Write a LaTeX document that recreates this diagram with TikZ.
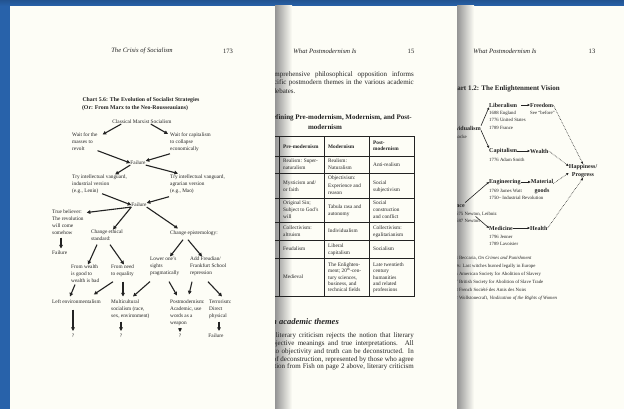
\documentclass[tikz,border=0pt]{standalone}
\usepackage{fontspec}
\setmainfont{Liberation Serif}
\usetikzlibrary{arrows.meta}
\definecolor{desk}{RGB}{40,98,170}
\definecolor{paper}{RGB}{253,253,246}
\definecolor{ink}{RGB}{35,35,35}
\newcommand\justline[2]{\makebox[#1][s]{#2}}
\tikzset{
  chart/.style={font=\fontsize{5.3}{7}\selectfont, text=ink, inner sep=0pt, align=left, anchor=north west},
  cell/.style={font=\fontsize{5.3}{6.5}\selectfont, text=ink, inner sep=0pt, align=left, anchor=north west},
  hdr/.style={font=\fontsize{6.6}{8}\selectfont\itshape, text=ink, inner sep=0pt},
  body/.style={font=\fontsize{7}{8}\selectfont, text=ink, inner sep=0pt, anchor=east},
  bold6/.style={font=\fontsize{6}{8}\selectfont\bfseries, text=ink, inner sep=0pt},
  date/.style={font=\fontsize{4.8}{7.5}\selectfont, text=ink, inner sep=0pt, align=left},
  arr/.style={-{Triangle[length=3.6pt,width=3.6pt]}, line width=1.1pt, ink},
  thinarr/.style={-{Triangle[length=2.4pt,width=2.2pt]}, line width=0.6pt, ink},
  dotarr/.style={-{Triangle[length=2.4pt,width=2.2pt]}, line width=0.6pt, densely dotted, ink},
  rule/.style={line width=0.6pt, ink}
}
\begin{document}
\begin{tikzpicture}[x=1pt,y=-1pt]
\useasboundingbox (0,0) rectangle (624,409);
% desk behind the pages
\fill[desk] (0,0) rectangle (624,409);
\fill[top color=desk!85!black, bottom color=desk] (0,0) rectangle (624,6);

% page 13 (back)
\fill[paper] (430,6) rectangle (624,409);
\fill[left color=black!42, right color=paper] (457,6) rectangle (474,409);
\node[hdr] (hdr13) at (505,51) {What Postmodernism Is};
\node[hdr, font=\fontsize{6.6}{8}\selectfont] (num13) at (592,51) {13};
\node[font=\fontsize{7}{8}\selectfont\bfseries, text=ink, inner sep=0pt, anchor=east] (chart12) at (560,89) {Chart 1.2: The Enlightenment Vision};
\node[bold6, anchor=west] (lib) at (489,105) {Liberalism};
\node[bold6, anchor=west] (free) at (530,105) {Freedom};
\node[date, anchor=north west] (libd) at (489,110.8) {1688 England\\1776 United States\\1789 France};
\node[date, anchor=west] (see) at (530,113) {See ``before''};
\node[bold6, anchor=east] (indiv) at (481,128) {Individualism};
\node[date, anchor=east] (locke) at (467,137) {1690 Locke};
\node[bold6, anchor=west] (cap) at (489,151) {Capitalism};
\node[bold6, anchor=west] (wlth) at (530,151) {Wealth};
\node[date, anchor=west] (smith) at (489,160) {1776 Adam Smith};
\node[bold6, align=center] (happy) at (583,171) {Happiness/\\Progress};
\node[bold6, anchor=west] (eng) at (489,182) {Engineering};
\node[bold6, align=center, font=\fontsize{6}{9}\selectfont\bfseries] (goods) at (542,186.5) {Material\\goods};
\node[date, anchor=north west] (watt) at (489,188.8) {1769 James Watt\\1750-- Industrial Revolution};
\node[bold6, anchor=east] (sci) at (465,205) {Science};
\node[date, anchor=north east] (newt) at (497,211.8) {1675 Newton, Leibniz\\1687 Newton};
\node[bold6, anchor=west] (med) at (489,228) {Medicine};
\node[bold6, anchor=west] (hlth) at (530,228) {Health};
\node[date, anchor=north west] (jen) at (489,234.8) {1796 Jenner\\1789 Lavoisier};
\node[date, anchor=north west, font=\fontsize{4.8}{8}\selectfont] (events) at (448,256) {1764 Beccaria, \textit{On Crimes and Punishment}\\1780s: Last witches burned legally in Europe\\1775 American Society for Abolition of Slavery\\1787 British Society for Abolition of Slave Trade\\1788 French Soci\'et\'e des Amis des Noirs\\1792 Wollstonecraft, \textit{Vindication of the Rights of Women}};
\draw[thinarr, shorten <=4pt] (lib) -- (free);
\draw[thinarr] (indiv.north east) -- (lib.south west);
\draw[thinarr] (indiv.south east) -- (cap.north west);
\draw[thinarr] (cap) -- (wlth);
\draw[thinarr] (eng.east) -- ([yshift=4.5pt]goods.west);
\draw[thinarr] (med) -- (hlth);
\draw[thinarr] (sci.north east) -- (eng.west);
\draw[thinarr, shorten <=14pt] (sci.south east) -- (med.west);
\draw[dotarr] (free.east) -- (happy.north);
\draw[dotarr] (wlth.east) -- ([yshift=5pt]happy.west);
\draw[dotarr] ([yshift=3pt]goods.east) -- ([yshift=-2pt]happy.west);
\draw[dotarr] (hlth.east) -- (happy.south);

% page 15 (middle)
\fill[paper] (200,6) rectangle (457,409);
\fill[left color=black!42, right color=paper] (275,6) rectangle (292,409);
\node[hdr] (hdr15) at (325,51) {What Postmodernism Is};
\node[hdr, font=\fontsize{6.6}{8}\selectfont] (num15) at (411,51) {15};
\node[body] (p1a) at (414,75) {\justline{146pt}{comprehensive philosophical opposition informs}};
\node[body] (p1b) at (414,83) {\justline{149pt}{specific postmodern themes in the various academic}};
\node[body, anchor=west] (p1c) at (272.5,91) {debates.};
\node[font=\fontsize{7}{8}\selectfont\bfseries, text=ink, inner sep=0pt, anchor=east] (tabt) at (412,118) {Defining Pre-modernism, Modernism, and Post-};
\node[font=\fontsize{7}{8}\selectfont\bfseries, text=ink, inner sep=0pt] (tabt2) at (325,127) {modernism};
\draw[line width=1pt, ink] (234,137) rectangle (414,296);
\foreach \yy in {156,173,198,222,240,258} \draw[rule] (234,\yy) -- (414,\yy);
\foreach \xx in {279,324,369} \draw[rule] (\xx,137) -- (\xx,296);
\node[cell, anchor=west, font=\fontsize{5.3}{6.5}\selectfont\bfseries] (h1) at (283,147) {Pre-modernism};
\node[cell, anchor=west, font=\fontsize{5.3}{6.5}\selectfont\bfseries] (h2) at (328,147) {Modernism};
\node[cell, font=\fontsize{5.3}{6.5}\selectfont\bfseries] (h3) at (373,140.8) {Post-\\modernism};
\node[cell] (a1) at (283,158.8) {Realism: Super-\\naturalism};
\node[cell] (a2) at (328,158.8) {Realism:\\Naturalism};
\node[cell, anchor=west] (a3) at (373,165) {Anti-realism};
\node[cell] (b1) at (283,180.8) {Mysticism and/\\or faith};
\node[cell, font=\fontsize{5.3}{7.5}\selectfont] (b2) at (328,175.8) {Objectivism:\\Experience and\\reason};
\node[cell] (b3) at (373,180.8) {Social\\subjectivism};
\node[cell, font=\fontsize{5.3}{7}\selectfont] (c1) at (283,200.8) {Original Sin;\\Subject to God's\\will};
\node[cell] (c2) at (328,204.8) {Tabula rasa and\\autonomy};
\node[cell, font=\fontsize{5.3}{7}\selectfont] (c3) at (373,200.8) {Social\\construction\\and conflict};
\node[cell] (d1) at (283,225.8) {Collectivism:\\altruism};
\node[cell, anchor=west] (d2) at (328,231) {Individualism};
\node[cell] (d3) at (373,225.8) {Collectivism:\\egalitarianism};
\node[cell, anchor=west] (e1) at (283,249) {Feudalism};
\node[cell] (e2) at (328,243.8) {Liberal\\capitalism};
\node[cell, anchor=west] (e3) at (373,249) {Socialism};
\node[cell, anchor=west] (f1) at (283,277) {Medieval};
\node[cell, font=\fontsize{5.3}{6.3}\selectfont] (f2) at (328,262.8) {The Enlighten-\\ment; 20\textsuperscript{th}-cen-\\tury sciences,\\business, and\\technical fields};
\node[cell, font=\fontsize{5.3}{6.3}\selectfont] (f3) at (373,262.8) {Late twentieth\\century\\humanities\\and related\\professions};
\node[font=\fontsize{8.5}{10}\selectfont\bfseries\itshape, text=ink, inner sep=0pt, anchor=east] (themes) at (339,322) {Postmodern academic themes};
\node[body] (p2a) at (414,336) {\justline{138pt}{literary criticism rejects the notion that literary}};
\node[body] (p2b) at (414,344) {\justline{145pt}{objective meanings and true interpretations. All}};
\node[body] (p2c) at (414,352) {\justline{140pt}{to objectivity and truth can be deconstructed. In}};
\node[body] (p2d) at (414,359.5) {\justline{141pt}{of deconstruction, represented by those who agree}};
\node[body] (p2e) at (414,367) {\justline{155pt}{quotation from Fish on page 2 above, literary criticism}};

% page 173 (front)
\fill[paper] (10,6) rectangle (275,409);
\node[hdr] (hdr173) at (142,51) {The Crisis of Socialism};
\node[hdr, font=\fontsize{6.6}{8}\selectfont] (num173) at (228,51) {173};
\node[font=\fontsize{5.8}{8}\selectfont\bfseries, text=ink, inner sep=0pt] (chart56) at (141,100) {Chart 5.6: The Evolution of Socialist Strategies};
\node[font=\fontsize{5.8}{8}\selectfont\bfseries, text=ink, inner sep=0pt] (chart56b) at (135,108) {(Or: From Marx to the Neo-Rousseauians)};
\node[chart, anchor=center] (cms) at (142,122) {Classical Marxist Socialism};
\node[chart] (masses) at (72,132.5) {Wait for the\\masses to\\revolt};
\node[chart] (collapse) at (170,132.5) {Wait for capitalism\\to collapse\\economically};
\node[chart, anchor=center] (fail1) at (138,163) {Failure};
\node[chart] (lenin) at (72,174.5) {Try intellectual vanguard,\\industrial version\\(e.g., Lenin)};
\node[chart] (mao) at (170,174.5) {Try intellectual vanguard,\\agrarian version\\(e.g., Mao)};
\node[chart, anchor=center] (fail2) at (139,205) {Failure};
\node[chart] (believer) at (52,209.5) {True believer:\\The revolution\\will come\\somehow};
\node[chart] (fail3) at (52,250.5) {Failure};
\node[chart] (ethical) at (91,229.5) {Change ethical\\standard:};
\node[chart] (episte) at (170,230.5) {Change epistemology:};
\node[chart] (wealth) at (71,264.5) {From wealth\\is good to\\wealth is bad};
\node[chart] (need) at (111,264.5) {From need\\to equality};
\node[chart] (sights) at (150,256.5) {Lower one's\\sights\\pragmatically};
\node[chart] (freud) at (190,256.5) {Add Freudian/\\Frankfurt School\\repression};
\node[chart] (enviro) at (52,299.5) {Left environmentalism};
\node[chart] (multi) at (111,299.5) {Multicultural\\socialism (race,\\sex, environment)};
\node[chart] (pomo) at (170,299.5) {Postmodernism:\\Academic, use\\words as a\\weapon};
\node[chart] (terror) at (209,299.5) {Terrorism:\\Direct\\physical};
\node[chart, anchor=center] (q1) at (73,336) {?};
\node[chart, anchor=center] (q2) at (121,336) {?};
\node[chart, anchor=center] (q3) at (180,336) {?};
\node[chart, anchor=center] (fail4) at (216,336) {Failure};
\draw[arr] ([xshift=9pt]cms.south west) -- ([xshift=5pt,yshift=-2pt]masses.north east);
\draw[arr] ([xshift=-21pt]cms.south east) -- ([xshift=-2pt,yshift=-1.5pt]collapse.north west);
\draw[arr] (masses.south east) -- (fail1.west);
\draw[arr] ([yshift=-2pt]collapse.south west) -- (fail1.north east);
\draw[arr] (fail1.south west) -- ([xshift=-12pt]lenin.north east);
\draw[arr] (fail1.south east) -- ([xshift=8pt,yshift=1pt]mao.north west);
\draw[arr] ([xshift=-25pt]lenin.south east) -- (fail2.west);
\draw[arr] ([xshift=-1pt,yshift=-3pt]mao.south west) -- (fail2.north east);
\draw[arr] (fail2.south west) -- ([xshift=3pt,yshift=-3pt]believer.north east);
\draw[arr] (fail2.south west) -- ([xshift=22pt]ethical.north west);
\draw[arr] (fail2.south east) -- ([xshift=8pt,yshift=2pt]episte.north west);
\draw[arr] ([xshift=9pt,yshift=-3pt]believer.south west) -- ([xshift=9pt,yshift=2pt]fail3.north west);
\draw[arr] ([xshift=6pt,yshift=-4pt]ethical.south west) -- ([xshift=17pt]wealth.north west);
\draw[arr] ([xshift=19pt,yshift=-4pt]ethical.south west) -- ([xshift=13pt]need.north west);
\draw[arr] ([xshift=13pt,yshift=-4pt]episte.south west) -- ([xshift=20pt]sights.north west);
\draw[arr] ([xshift=18pt,yshift=-4pt]episte.south west) -- ([xshift=12pt]freud.north west);
\draw[arr] ([xshift=4pt,yshift=-2pt]wealth.south west) -- ([xshift=18pt,yshift=3pt]enviro.north west);
\draw[arr] ([xshift=2pt,yshift=-5pt]need.south west) -- ([xshift=-7pt,yshift=5pt]enviro.north east);
\draw[arr] ([xshift=12pt,yshift=-5pt]need.south west) -- ([xshift=12pt,yshift=3pt]multi.north west);
\draw[arr] ([yshift=-6pt]sights.south west) -- ([xshift=22pt,yshift=3pt]multi.north west);
\draw[arr] ([xshift=19pt,yshift=-6pt]sights.south west) -- ([xshift=7pt,yshift=4pt]pomo.north west);
\draw[arr] ([xshift=2pt,yshift=-6pt]freud.south west) -- ([xshift=19pt,yshift=5pt]pomo.north west);
\draw[arr] ([xshift=18pt,yshift=-6pt]freud.south west) -- ([xshift=13pt,yshift=3pt]terror.north west);
\draw[arr] ([xshift=21pt,yshift=-6pt]enviro.south west) -- ([yshift=3pt]q1.north);
\draw[arr] ([xshift=10pt,yshift=-3pt]multi.south west) -- ([yshift=3pt]q2.north);
\draw[arr] ([xshift=10pt,yshift=-2pt]pomo.south west) -- ([yshift=2pt]q3.north);
\draw[arr] ([xshift=10pt,yshift=-3pt]terror.south west) -- ([xshift=3pt,yshift=3pt]fail4.north);
\end{tikzpicture}
\end{document}
